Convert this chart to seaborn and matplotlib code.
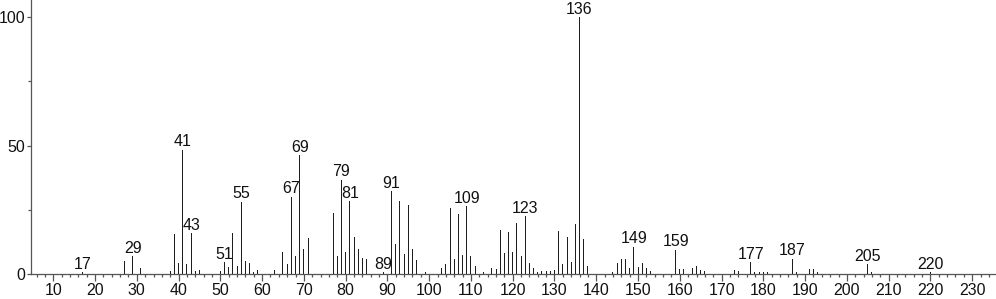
import matplotlib
matplotlib.use('Agg')
import matplotlib.pyplot as plt
from matplotlib.ticker import MultipleLocator, FixedLocator
import seaborn as sns
import pandas as pd

# m/z values and relative intensities
mz = [17, 27, 29, 31, 38, 39, 40, 41, 42, 43, 44, 45, 50, 51, 52, 53, 54, 55, 56, 57,
      58, 59, 63, 65, 66, 67, 68, 69, 70, 71, 77, 78, 79, 80, 81, 82, 83, 84, 85, 89,
      91, 92, 93, 94, 95, 96, 97, 99, 103, 104, 105, 106, 107, 108, 109, 110, 111, 113,
      115, 116, 117, 118, 119, 120, 121, 122, 123, 124, 125, 126, 127, 128, 129, 130,
      131, 132, 133, 134, 135, 136, 137, 138, 144, 145, 146, 147, 148, 149, 150, 151,
      152, 153, 159, 160, 161, 163, 164, 165, 166, 173, 174, 177, 178, 179, 180, 181,
      187, 188, 191, 192, 193, 205, 206, 220]
intensity = [0.8, 5.2, 7.0, 2.4, 1.2, 15.7, 4.4, 48.4, 4.2, 16.0, 1.3, 1.6, 1.1, 4.6, 3.0, 16.2, 3.2, 28.3, 5.2, 4.4,
             0.9, 1.5, 1.5, 8.7, 4.0, 30.1, 7.1, 46.4, 9.8, 14.2, 24.0, 7.1, 36.8, 8.7, 28.5, 14.5, 9.8, 6.4, 6.0, 0.9,
             32.3, 11.8, 28.5, 7.9, 27.1, 9.8, 5.6, 0.8, 2.4, 3.9, 25.7, 6.0, 23.5, 7.7, 26.4, 7.0, 3.2, 0.8,
             2.6, 2.2, 17.2, 8.4, 16.6, 8.8, 20.0, 7.1, 22.6, 4.3, 2.3, 1.0, 1.4, 1.4, 1.3, 1.6,
             16.9, 3.9, 14.5, 4.9, 19.6, 100.0, 13.7, 3.2, 0.9, 4.4, 6.0, 6.0, 2.6, 10.8, 3.0, 4.5,
             2.3, 1.4, 9.5, 2.2, 2.2, 2.4, 3.2, 1.7, 1.3, 1.8, 1.2, 4.6, 0.8, 0.8, 0.8, 0.8,
             6.1, 0.9, 2.0, 2.0, 1.0, 4.0, 0.9, 0.8]
labeled = [17, 29, 41, 43, 51, 55, 67, 69, 79, 81, 89, 91, 109, 123, 136, 149, 159,
           177, 187, 205, 220]
x_major = list(range(10, 231, 10))
y_major = [0, 50, 100]
y_minor = [25, 75]

sns.set_style('ticks')
plt.rcParams['font.family'] = ['Liberation Sans', 'DejaVu Sans']

fig = plt.figure(figsize=(9.96, 2.99), dpi=100)
ax = fig.add_axes([31 / 996, 24.7 / 299, 965 / 996, 274.3 / 299])

df = pd.DataFrame({'mz': mz, 'intensity': intensity})
sns.histplot(data=df, x='mz', weights='intensity', discrete=True, shrink=0.24,
             color='#1e1e1e', alpha=1, linewidth=0, ax=ax)

ax.set_xlim(4.67, 235.7)
ax.set_ylim(0, 106.7)
ax.set_xlabel('')
ax.set_ylabel('')

ax.xaxis.set_major_locator(FixedLocator(x_major))
ax.xaxis.set_minor_locator(MultipleLocator(2))
ax.yaxis.set_major_locator(FixedLocator(y_major))
ax.yaxis.set_minor_locator(FixedLocator(y_minor))

spine_c = '#555555'
for s in ['top', 'right']:
    ax.spines[s].set_visible(False)
for s in ['left', 'bottom']:
    ax.spines[s].set_color(spine_c)
    ax.spines[s].set_linewidth(0.9)

ax.tick_params(axis='x', which='major', direction='out', length=5, width=0.9,
               color=spine_c, pad=1.5, labelsize=11.5, labelcolor='#111111')
ax.tick_params(axis='x', which='minor', direction='out', length=2.5, width=0.9, color=spine_c)
ax.tick_params(axis='y', which='major', direction='out', length=3, width=0.9,
               color=spine_c, pad=1.2, labelsize=11.5, labelcolor='#111111')
ax.tick_params(axis='y', which='minor', direction='out', length=2, width=0.9, color=spine_c)

for m in labeled:
    h = df.loc[df.mz == m, 'intensity'].iloc[0]
    ax.annotate(str(m), (m, h), xytext=(0, 2.5), textcoords='offset points',
                ha='center', va='baseline', fontsize=11.5, color='#111111')

fig.savefig('out.png', dpi=100)
